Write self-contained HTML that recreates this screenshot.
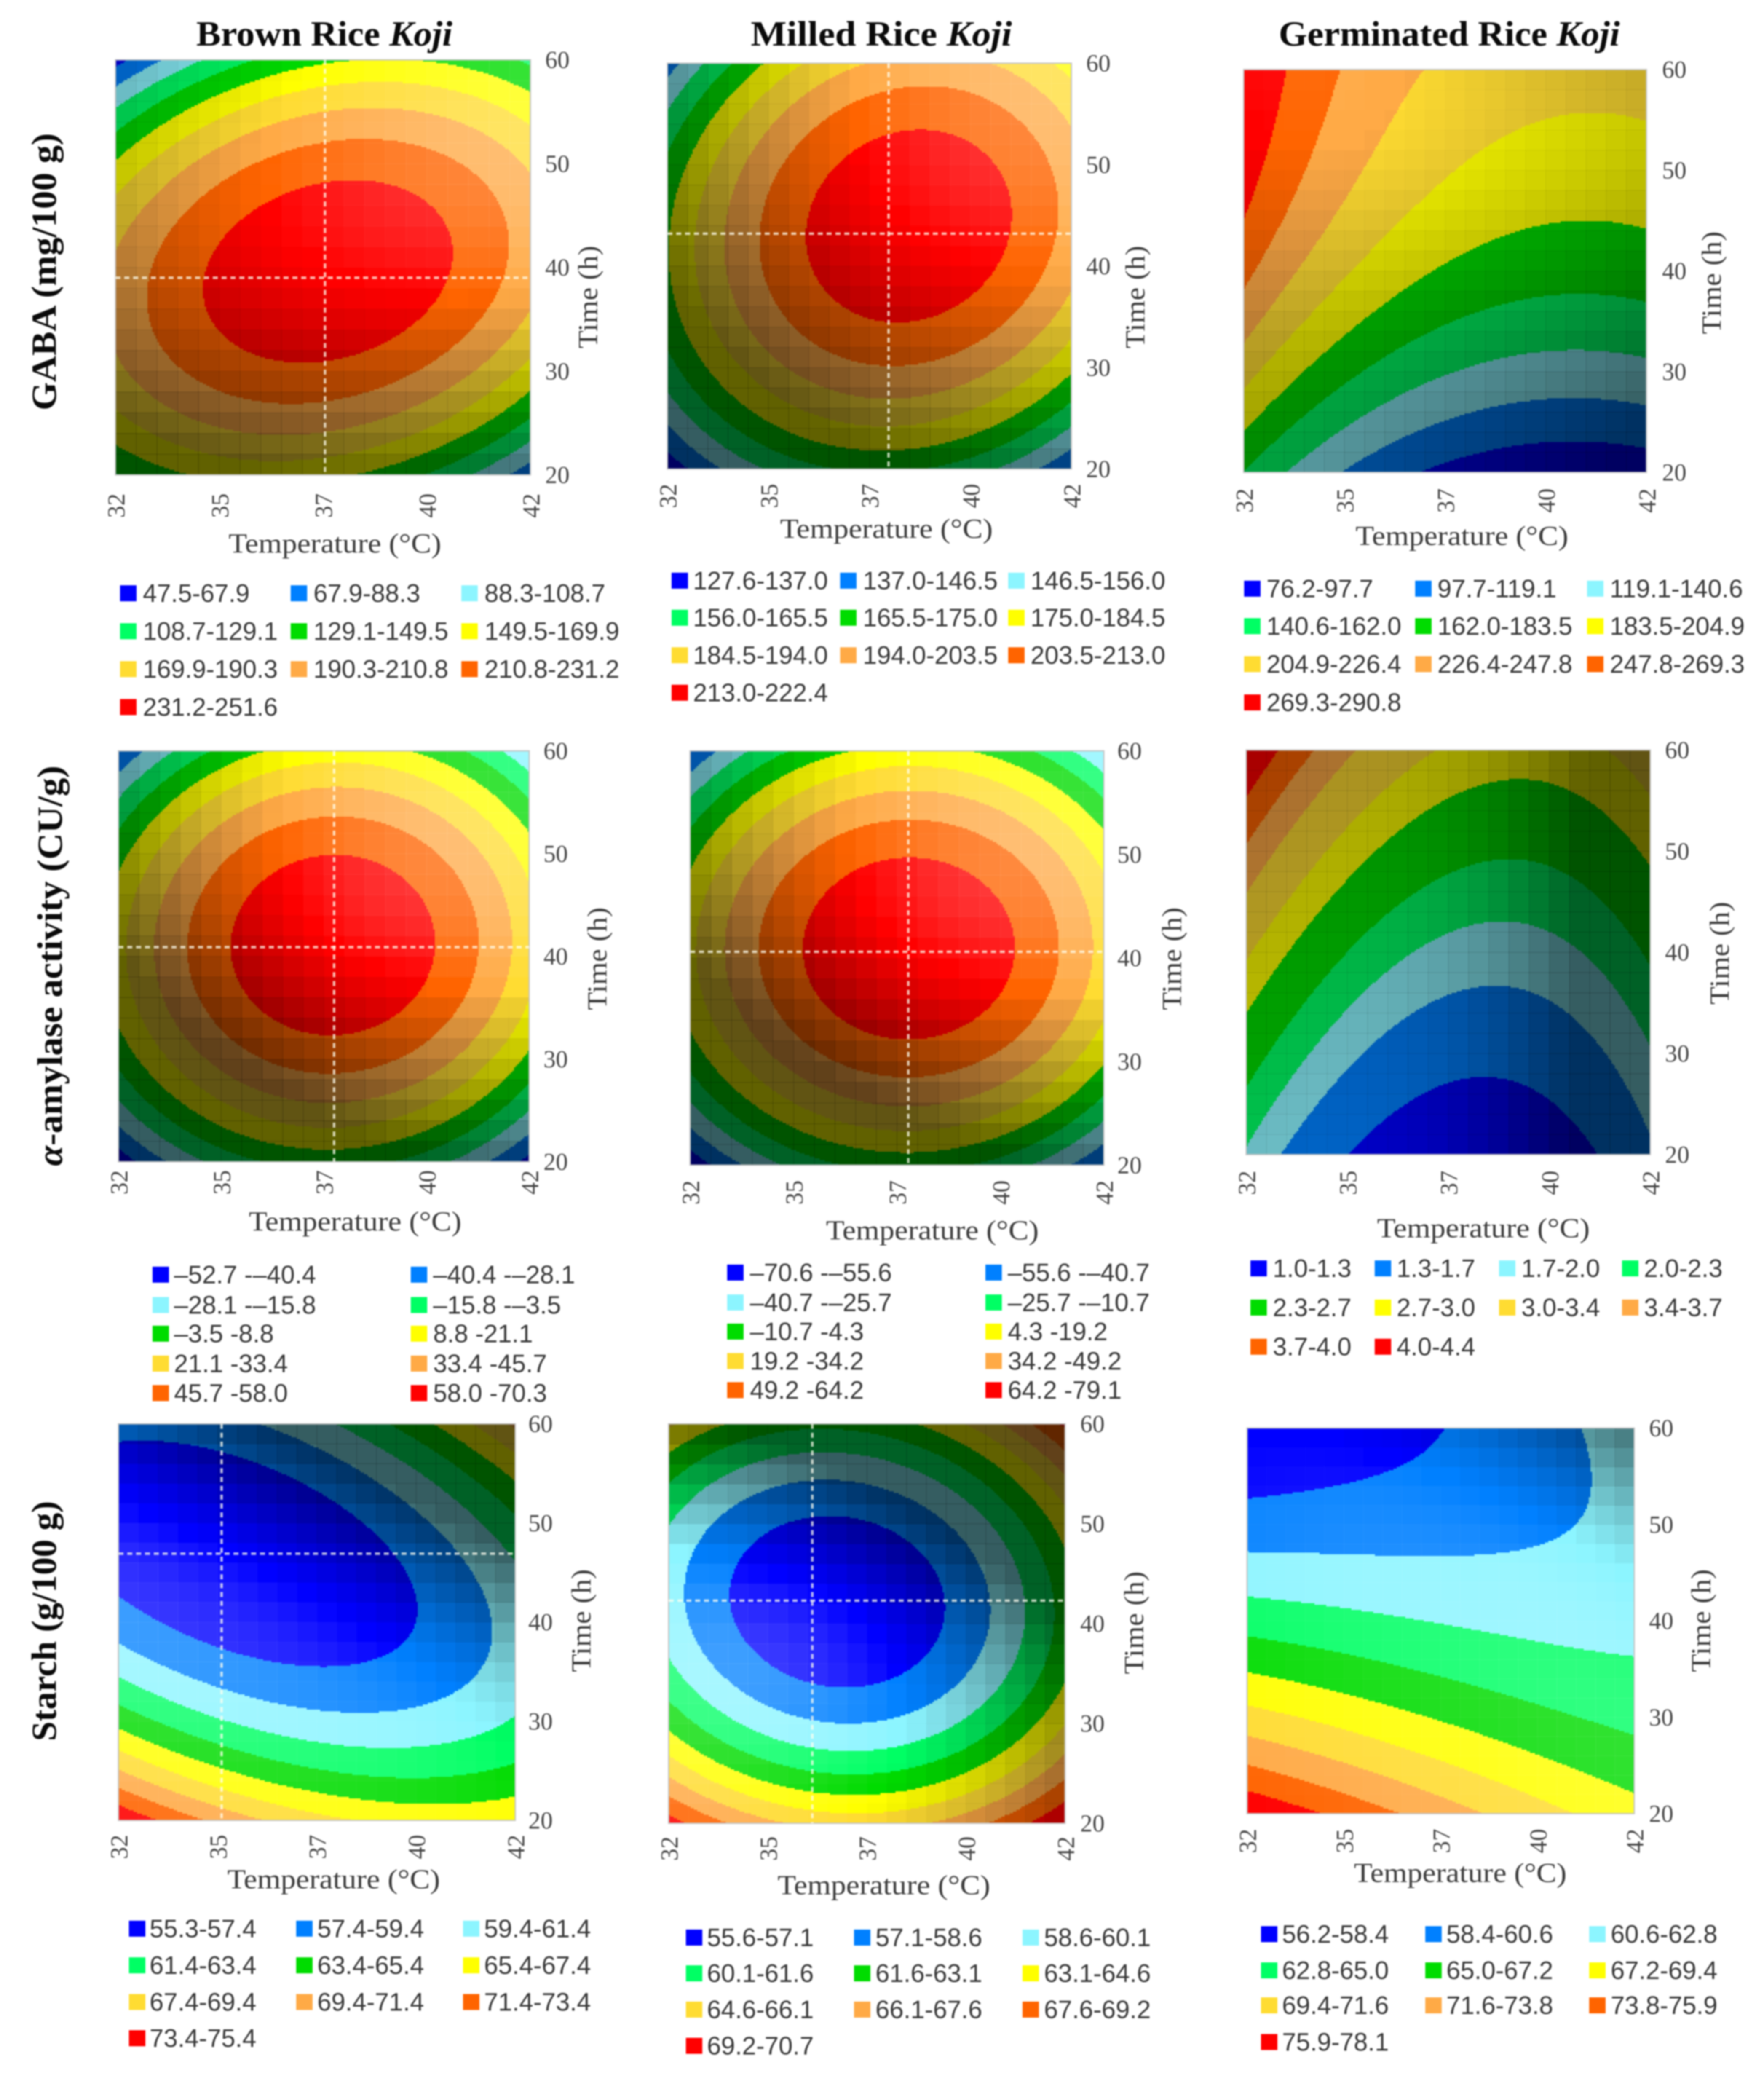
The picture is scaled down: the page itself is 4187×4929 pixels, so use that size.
<!DOCTYPE html>
<html lang="en">
<head>
<meta charset="utf-8">
<title>Koji response surfaces</title>
<style>
html,body{margin:0;padding:0;background:#fff;width:4187px;height:4929px;overflow:hidden}
svg{display:block;filter:blur(1.8px)}
text{font-family:"Liberation Serif",serif}
.legend-text{font-family:"Liberation Sans",sans-serif;font-size:60px;fill:#383838}
.tick{font-size:58px;fill:#454545}
.axis-title{font-size:66px;fill:#3c3c3c}
.head{font-size:84px;font-weight:bold;fill:#0a0a0a}
</style>
</head>
<body>
<svg id="figure" xmlns="http://www.w3.org/2000/svg" width="4187" height="4929" viewBox="0 0 4187 4929">
<rect x="0" y="0" width="4187" height="4929" fill="#ffffff"/>
<text class="head" x="770" y="108" text-anchor="middle" textLength="608" lengthAdjust="spacingAndGlyphs">Brown Rice <tspan font-style="italic">Koji</tspan></text>
<text class="head" x="2092" y="108" text-anchor="middle" textLength="620" lengthAdjust="spacingAndGlyphs">Milled Rice <tspan font-style="italic">Koji</tspan></text>
<text class="head" x="3440" y="108" text-anchor="middle" textLength="810" lengthAdjust="spacingAndGlyphs">Germinated Rice <tspan font-style="italic">Koji</tspan></text>
<text class="head" transform="rotate(-90 105 645)" x="105" y="645" text-anchor="middle" dominant-baseline="central" textLength="658" lengthAdjust="spacingAndGlyphs">GABA (mg/100 g)</text>
<text class="head" transform="rotate(-90 119 2292)" x="119" y="2292" text-anchor="middle" dominant-baseline="central" textLength="950" lengthAdjust="spacingAndGlyphs"><tspan font-style="italic">α</tspan>-amylase activity (CU/g)</text>
<text class="head" transform="rotate(-90 105 3847)" x="105" y="3847" text-anchor="middle" dominant-baseline="central" textLength="570" lengthAdjust="spacingAndGlyphs">Starch (g/100 g)</text>
</svg>
<script>
// ---- shared axis categories ----
const temperatureTicks = ["32", "35", "37", "40", "42"];
const timeTicks = [60, 50, 40, 30, 20];

// ---- surface values: rows = time 60..20 h, columns = temperature 32..42 °C ----
const gabaBrown = [
  [63.8, 110.8, 149.6, 147.5, 127.1],
  [141.4, 198.5, 223.0, 214.9, 184.2],
  [208.7, 233.2, 251.6, 245.5, 200.6],
  [184.2, 212.8, 227.1, 206.7, 155.7],
  [129.1, 147.5, 155.7, 137.3, 74.0]
];
const gabaMilled = [
  [139.0, 175.0, 196.8, 197.8, 177.8],
  [169.3, 198.7, 217.7, 217.7, 195.9],
  [174.5, 207.2, 218.6, 217.7, 200.6],
  [164.1, 187.3, 199.6, 192.1, 176.9],
  [130.4, 156.0, 168.4, 163.6, 137.1]
];
const gabaGerminated = [
  [290.8, 247.9, 222.1, 213.5, 213.5],
  [282.2, 228.6, 209.3, 194.2, 196.4],
  [253.2, 207.1, 182.4, 169.6, 172.8],
  [212.5, 170.6, 140.6, 132.0, 134.1],
  [162.0, 118.0, 91.2, 83.7, 84.8]
];
const amylaseBrown = [
  [-37.9, -1.0, 14.9, 7.6, -30.0],
  [1.4, 42.0, 58.0, 46.9, 14.9],
  [18.6, 55.5, 70.3, 61.7, 31.0],
  [-1.0, 34.6, 49.4, 39.5, 3.9],
  [-46.6, -10.9, 1.4, -8.4, -46.6]
];
const amylaseMilled = [
  [-54.1, -10.0, 11.7, -1.7, -40.0],
  [-1.7, 43.2, 61.1, 49.2, 10.2],
  [17.0, 62.6, 79.1, 73.1, 32.7],
  [-7.7, 37.2, 55.1, 44.7, 4.3],
  [-64.6, -24.2, -4.7, -15.2, -58.6]
];
const amylaseGerminated = [
  [4.30, 3.48, 2.97, 2.80, 3.24],
  [3.67, 2.85, 2.43, 2.39, 2.75],
  [3.04, 2.26, 1.94, 1.92, 2.33],
  [2.48, 1.78, 1.44, 1.49, 1.97],
  [1.97, 1.31, 0.97, 1.10, 1.65]
];
const starchBrown = [
  [58.1, 58.3, 61.1, 65.0, 69.4],
  [55.9, 55.7, 56.5, 58.9, 63.4],
  [58.6, 56.7, 55.9, 57.4, 59.6],
  [64.8, 61.4, 59.9, 60.1, 62.1],
  [75.2, 71.4, 67.8, 66.6, 67.2]
];
const starchMilled = [
  [63.9, 62.7, 62.1, 64.1, 69.9],
  [61.0, 58.0, 57.7, 59.6, 63.9],
  [59.1, 56.4, 55.6, 56.7, 61.5],
  [62.8, 59.1, 58.4, 60.3, 65.6],
  [70.2, 66.2, 65.4, 67.7, 70.5]
];
const starchGerminated = [
  [56.2, 56.9, 58.6, 59.9, 61.6],
  [59.5, 59.7, 59.7, 60.0, 61.5],
  [64.1, 63.4, 62.7, 62.3, 61.9],
  [70.1, 68.7, 67.0, 65.6, 64.5],
  [77.9, 75.3, 72.7, 70.2, 68.1]
];

// ---- class breaks printed in each legend ----
const gabaBrownBreaks = [47.5, 67.9, 88.3, 108.7, 129.1, 149.5, 169.9, 190.3, 210.8, 231.2, 251.6];
const gabaMilledBreaks = [127.6, 137.0, 146.5, 156.0, 165.5, 175.0, 184.5, 194.0, 203.5, 213.0, 222.4];
const gabaGerminatedBreaks = [76.2, 97.7, 119.1, 140.6, 162.0, 183.5, 204.9, 226.4, 247.8, 269.3, 290.8];
const amylaseBrownBreaks = [-52.7, -40.4, -28.1, -15.8, -3.5, 8.8, 21.1, 33.4, 45.7, 58.0, 70.3];
const amylaseMilledBreaks = [-70.6, -55.6, -40.7, -25.7, -10.7, 4.3, 19.2, 34.2, 49.2, 64.2, 79.1];
const amylaseGerminatedBreaks = [1.0, 1.3, 1.7, 2.0, 2.3, 2.7, 3.0, 3.4, 3.7, 4.0, 4.4];
const starchBrownBreaks = [55.3, 57.4, 59.4, 61.4, 63.4, 65.4, 67.4, 69.4, 71.4, 73.4, 75.4];
const starchMilledBreaks = [55.6, 57.1, 58.6, 60.1, 61.6, 63.1, 64.6, 66.1, 67.6, 69.2, 70.7];
const starchGerminatedBreaks = [56.2, 58.4, 60.6, 62.8, 65.0, 67.2, 69.4, 71.6, 73.8, 75.9, 78.1];

// ---- legend labels as printed ----
const gabaBrownLabels = ["47.5-67.9","67.9-88.3","88.3-108.7","108.7-129.1","129.1-149.5","149.5-169.9","169.9-190.3","190.3-210.8","210.8-231.2","231.2-251.6"];
const gabaMilledLabels = ["127.6-137.0","137.0-146.5","146.5-156.0","156.0-165.5","165.5-175.0","175.0-184.5","184.5-194.0","194.0-203.5","203.5-213.0","213.0-222.4"];
const gabaGerminatedLabels = ["76.2-97.7","97.7-119.1","119.1-140.6","140.6-162.0","162.0-183.5","183.5-204.9","204.9-226.4","226.4-247.8","247.8-269.3","269.3-290.8"];
const amylaseBrownLabels = ["–52.7 -–40.4","–40.4 -–28.1","–28.1 -–15.8","–15.8 -–3.5","–3.5 -8.8","8.8 -21.1","21.1 -33.4","33.4 -45.7","45.7 -58.0","58.0 -70.3"];
const amylaseMilledLabels = ["–70.6 -–55.6","–55.6 -–40.7","–40.7 -–25.7","–25.7 -–10.7","–10.7 -4.3","4.3 -19.2","19.2 -34.2","34.2 -49.2","49.2 -64.2","64.2 -79.1"];
const amylaseGerminatedLabels = ["1.0-1.3","1.3-1.7","1.7-2.0","2.0-2.3","2.3-2.7","2.7-3.0","3.0-3.4","3.4-3.7","3.7-4.0","4.0-4.4"];
const starchBrownLabels = ["55.3-57.4","57.4-59.4","59.4-61.4","61.4-63.4","63.4-65.4","65.4-67.4","67.4-69.4","69.4-71.4","71.4-73.4","73.4-75.4"];
const starchMilledLabels = ["55.6-57.1","57.1-58.6","58.6-60.1","60.1-61.6","61.6-63.1","63.1-64.6","64.6-66.1","66.1-67.6","67.6-69.2","69.2-70.7"];
const starchGerminatedLabels = ["56.2-58.4","58.4-60.6","60.6-62.8","62.8-65.0","65.0-67.2","67.2-69.4","69.4-71.6","71.6-73.8","73.8-75.9","75.9-78.1"];

// ---- optimum read from the dashed crosshairs: [temperature position 0..4, time h] ----
const gabaBrownOptimum = [2.02, 39.0];
const gabaMilledOptimum = [2.19, 43.2];
const amylaseBrownOptimum = [2.10, 40.9];
const amylaseMilledOptimum = [2.11, 40.6];
const starchBrownOptimum = [1.04, 46.9];
const starchMilledOptimum = [1.45, 42.3];

const bandColors = ["#0000ff","#0080ff","#8cf5ff","#00ff64","#00dc00","#ffff00","#ffdc32","#ffaa46","#ff6400","#ff0000"];

// ---- page layout and rendering style (not data) ----
const panels = [
 {id:"gaba-brown",grid:gabaBrown,breaks:gabaBrownBreaks,labels:gabaBrownLabels,opt:gabaBrownOptimum,deg:2,relief:0.2,
  box:[274,142,1259,1127],tickY:1200,tickDx:2,yTickX:1294,xTitle:[795,1290],yTitle:[1396,705],
  legCols:[[285,339],[690,744],[1095,1150]],legRows:[1408,1498,1588,1678]},
 {id:"gaba-milled",grid:gabaMilled,breaks:gabaMilledBreaks,labels:gabaMilledLabels,opt:gabaMilledOptimum,deg:2,relief:0.2,
  box:[1584,150,2543,1113],tickY:1177,tickDx:2,yTickX:2578,xTitle:[2104,1255],yTitle:[2695,705],
  legCols:[[1594,1645],[1994,2048],[2393,2446]],legRows:[1378,1466,1555,1644]},
 {id:"gaba-germinated",grid:gabaGerminated,breaks:gabaGerminatedBreaks,labels:gabaGerminatedLabels,opt:null,deg:4,relief:0.35,
  box:[2952,165,3908,1121],tickY:1188,tickDx:2,yTickX:3945,xTitle:[3470,1272],yTitle:[4063,671],
  legCols:[[2953,3006],[3359,3412],[3767,3821]],legRows:[1397,1486,1576,1667]},
 {id:"amylase-brown",grid:amylaseBrown,breaks:amylaseBrownBreaks,labels:amylaseBrownLabels,opt:amylaseBrownOptimum,deg:2,relief:0.22,
  box:[281,1782,1256,2757],tickY:2806,tickDx:2,yTickX:1290,xTitle:[843,2899],yTitle:[1418,2275],
  legCols:[[362,413],[975,1028]],legRows:[3025,3097,3165,3236,3306]},
 {id:"amylase-milled",grid:amylaseMilled,breaks:amylaseMilledBreaks,labels:amylaseMilledLabels,opt:amylaseMilledOptimum,deg:2,relief:0.22,
  box:[1638,1782,2620,2765],tickY:2830,tickDx:2,yTickX:2652,xTitle:[2213,2920],yTitle:[2782,2275],
  legCols:[[1726,1780],[2339,2392]],legRows:[3020,3091,3160,3230,3299]},
 {id:"amylase-germinated",grid:amylaseGerminated,breaks:amylaseGerminatedBreaks,labels:amylaseGerminatedLabels,opt:null,deg:3,relief:0.45,
  box:[2958,1780,3917,2740],tickY:2807,tickDx:2,yTickX:3952,xTitle:[3521,2915],yTitle:[4082,2262],
  legCols:[[2968,3021],[3263,3315],[3558,3611],[3850,3902]],legRows:[3010,3103,3196]},
 {id:"starch-brown",grid:starchBrown,breaks:starchBrownBreaks,labels:starchBrownLabels,opt:starchBrownOptimum,deg:2,relief:0.25,
  box:[281,3379,1223,4320],tickY:4383,tickDx:2,yTickX:1254,xTitle:[792,4460],yTitle:[1380,3846],
  legCols:[[306,355],[703,753],[1099,1149]],legRows:[4577,4664,4751,4837]},
 {id:"starch-milled",grid:starchMilled,breaks:starchMilledBreaks,labels:starchMilledLabels,opt:starchMilledOptimum,deg:2,relief:0.25,
  box:[1587,3379,2528,4327],tickY:4387,tickDx:2,yTickX:2564,xTitle:[2098,4474],yTitle:[2692,3851],
  legCols:[[1628,1678],[2027,2078],[2427,2478]],legRows:[4598,4683,4769,4855]},
 {id:"starch-germinated",grid:starchGerminated,breaks:starchGerminatedBreaks,labels:starchGerminatedLabels,opt:null,deg:3,relief:0.55,
  box:[2960,3389,3879,4304],tickY:4369,tickDx:2,yTickX:3914,xTitle:[3466,4445],yTitle:[4038,3846],
  legCols:[[2993,3043],[3383,3433],[3772,3823]],legRows:[4590,4676,4759,4846]}
];

const NS = "http://www.w3.org/2000/svg";
const root = document.getElementById("figure");
const STEP = 4, SHADE_CELLS = 20;
const LIGHT = [0.42, 0.42, 0.80];

function make(tag, parent){
  const el = document.createElementNS(NS, tag);
  parent.appendChild(el);
  return el;
}
// least-squares response surface: polynomial of total degree deg through the grid readings
function powersFor(deg){
  const pw = [];
  for(let i=0;i<=deg;i++){ for(let j=0;j<=deg-i;j++){ pw.push([i,j]); } }
  return pw;
}
function basisAt(pw, u, v){
  return pw.map(function(e){ return Math.pow(u,e[0])*Math.pow(v,e[1]); });
}
function fitSurface(grid, deg){
  const pw = powersFor(deg), n = pw.length;
  const A = [];
  for(let i=0;i<n;i++){ A.push(new Array(n+1).fill(0)); }
  grid.forEach(function(row, r){
    row.forEach(function(val, c){
      const b = basisAt(pw, c/2-1, r/2-1);
      for(let i=0;i<n;i++){
        for(let j=0;j<n;j++){ A[i][j] += b[i]*b[j]; }
        A[i][n] += b[i]*val;
      }
    });
  });
  for(let i=0;i<n;i++){
    let m = i;
    for(let k=i+1;k<n;k++){ if(Math.abs(A[k][i])>Math.abs(A[m][i])) m = k; }
    const tmp = A[i]; A[i] = A[m]; A[m] = tmp;
    for(let k=0;k<n;k++){
      if(k===i) continue;
      const f = A[k][i]/A[i][i];
      for(let j=i;j<=n;j++){ A[k][j] -= f*A[i][j]; }
    }
  }
  const coef = A.map(function(row, i){ return row[n]/row[i]; });
  return function(u, v){
    const b = basisAt(pw, u, v);
    let s = 0;
    for(let i=0;i<n;i++){ s += coef[i]*b[i]; }
    return s;
  };
}
function bandOf(breaks, v){
  for(let k=1;k<breaks.length-1;k++){ if(v < breaks[k]) return k-1; }
  return breaks.length-2;
}
function drawText(parent, cls, str, x, y, anchor, rot, name){
  const t = make("text", parent);
  
  
  t.setAttribute("class", cls);
  t.setAttribute("x", x);
  t.setAttribute("y", y);
  t.setAttribute("text-anchor", anchor);
  t.setAttribute("dominant-baseline", "central");
  if(rot) t.setAttribute("transform", "rotate(-90 "+x+" "+y+")");
  t.textContent = str;
  return t;
}

panels.forEach(function(p){
  const x0=p.box[0], y0=p.box[1], x1=p.box[2], y1=p.box[3];
  const W=x1-x0, H=y1-y0;
  const xScale = function(i){ return x0 + W*i/(temperatureTicks.length-1); };
  const yScale = function(h){ return y0 + H*(60-h)/40; };
  const surface = fitSurface(p.grid, p.deg);
  const g = make("g", root);
  
  

  // contour bands: one path per legend class
  const cols = Math.ceil(W/STEP), rows = Math.ceil(H/STEP);
  const segs = bandColors.map(function(){ return []; });
  for(let r=0;r<rows;r++){
    const v = 2*(r+0.5)/rows-1;
    const yTop = y0 + r*H/rows, hh = H/rows;
    let start = 0, cur = bandOf(p.breaks, surface(2*0.5/cols-1, v));
    for(let c=1;c<=cols;c++){
      const b = c<cols ? bandOf(p.breaks, surface(2*(c+0.5)/cols-1, v)) : -1;
      if(b!==cur){
        const xa = x0 + start*W/cols, xb = x0 + c*W/cols;
        segs[cur].push("M"+xa.toFixed(1)+" "+yTop.toFixed(1)+"H"+xb.toFixed(1)+"V"+(yTop+hh).toFixed(1)+"H"+xa.toFixed(1)+"Z");
        start = c; cur = b;
      }
    }
  }
  segs.forEach(function(d, k){
    if(!d.length) return;
    const path = make("path", g);
    
    
    path.setAttribute("d", d.join(""));
    path.setAttribute("fill", bandColors[k]);
    path.setAttribute("shape-rendering", "crispEdges");
  });

  // blocky surface lighting derived from the surface slope
  const lo = p.breaks[0], hi = p.breaks[p.breaks.length-1];
  const norm = 10/(hi-lo)*p.relief, d = 0.02;
  for(let r=0;r<SHADE_CELLS;r++){
    for(let c=0;c<SHADE_CELLS;c++){
      const u = 2*(c+0.5)/SHADE_CELLS-1, v = 2*(r+0.5)/SHADE_CELLS-1;
      // slopes per temperature step (2 steps per unit of u) and per 10 h step, upward positive
      const dzu = (surface(u+d,v)-surface(u-d,v))/(2*d)/2*norm;
      const dzUp = -(surface(u,v+d)-surface(u,v-d))/(2*d)/2*norm;
      const len = Math.sqrt(dzu*dzu + dzUp*dzUp + 1);
      const s = (-dzu*LIGHT[0] - dzUp*LIGHT[1] + LIGHT[2])/len/LIGHT[2];
      const alpha = s<1 ? Math.min(0.62, 1-s) : Math.min(0.3, (s-1));
      if(alpha < 0.012) continue;
      const cell = make("rect", g);
      
      
      cell.setAttribute("x", (x0 + W*c/SHADE_CELLS).toFixed(1));
      cell.setAttribute("y", (y0 + H*r/SHADE_CELLS).toFixed(1));
      cell.setAttribute("width", (W/SHADE_CELLS+0.5).toFixed(1));
      cell.setAttribute("height", (H/SHADE_CELLS+0.5).toFixed(1));
      cell.setAttribute("fill", s<1 ? "#000" : "#fff");
      cell.setAttribute("fill-opacity", alpha.toFixed(3));
    }
  }

  // plot frame
  const frame = make("rect", g);
  
  
  frame.setAttribute("x", x0);
  frame.setAttribute("y", y0);
  frame.setAttribute("width", W);
  frame.setAttribute("height", H);
  frame.setAttribute("fill", "none");
  frame.setAttribute("stroke", "#c4c4c4");
  frame.setAttribute("stroke-width", "3");

  // optimum crosshair
  if(p.opt){
    const cx = xScale(p.opt[0]), cy = yScale(p.opt[1]);
    const v = make("line", g);
    
    
    v.setAttribute("x1", cx); v.setAttribute("x2", cx);
    v.setAttribute("y1", y0); v.setAttribute("y2", y1);
    v.setAttribute("stroke", "#fffff0"); v.setAttribute("stroke-opacity", "0.72");
    v.setAttribute("stroke-width", "6"); v.setAttribute("stroke-dasharray", "12 9");
    const h = make("line", g);
    
    
    h.setAttribute("y1", cy); h.setAttribute("y2", cy);
    h.setAttribute("x1", x0); h.setAttribute("x2", x1);
    h.setAttribute("stroke", "#fffff0"); h.setAttribute("stroke-opacity", "0.72");
    h.setAttribute("stroke-width", "6"); h.setAttribute("stroke-dasharray", "12 9");
  }

  // tick labels and axis titles
  temperatureTicks.forEach(function(lbl, i){
    drawText(g, "tick", lbl, xScale(i)+p.tickDx, p.tickY, "middle", true, "x-tick-"+lbl);
  });
  timeTicks.forEach(function(t){
    drawText(g, "tick", String(t), p.yTickX, yScale(t), "start", false, "y-tick-"+t);
  });
  const xt = drawText(g, "axis-title", "Temperature (°C)", p.xTitle[0], p.xTitle[1], "middle", false, "x-axis-title");
  xt.setAttribute("textLength", "505");
  xt.setAttribute("lengthAdjust", "spacingAndGlyphs");
  const yt = drawText(g, "axis-title", "Time (h)", p.yTitle[0], p.yTitle[1], "middle", true, "y-axis-title");
  yt.setAttribute("textLength", "244");
  yt.setAttribute("lengthAdjust", "spacingAndGlyphs");

  // legend (row-major)
  p.labels.forEach(function(lbl, k){
    const col = p.legCols[k % p.legCols.length];
    const rowY = p.legRows[Math.floor(k / p.legCols.length)];
    const sw = make("rect", g);
    
    
    sw.setAttribute("x", col[0]);
    sw.setAttribute("y", rowY-19);
    sw.setAttribute("width", 39);
    sw.setAttribute("height", 38);
    sw.setAttribute("fill", bandColors[k]);
    drawText(g, "legend-text", lbl, col[1], rowY, "start", false, "legend-entry-"+k);
  });
});
</script>
</body>
</html>
